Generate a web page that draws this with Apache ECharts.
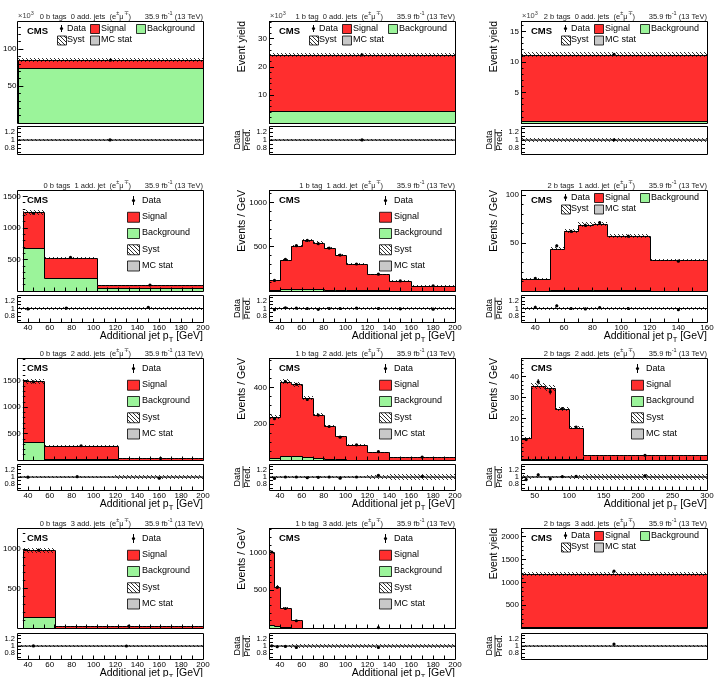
<!DOCTYPE html>
<html>
<head>
<meta charset="utf-8">
<title>Additional jet pT, e-mu channel</title>
<script src="https://cdn.jsdelivr.net/npm/echarts@6.0.0/dist/echarts.min.js"></script>
<style>
  html, body { margin: 0; padding: 0; background: #fff; }
  #chart { width: 722px; height: 677px; }
</style>
</head>
<body>
<div id="chart"></div>
<script>
// panel order: rows = number of additional jets (0..3), columns = b tags (0..2)
var bTagLabels = ['0 b tags', '1 b tag', '2 b tags'];
var addJetLabels = ['0 add. jets', '1 add. jet', '2 add. jets', '3 add. jets'];

// bin edges in additional jet pT [GeV]; one-bin panels use [0, 1]
var binEdges = [
  [0, 1], [0, 1], [0, 1],
  [30, 50, 100, 200],
  [30, 40, 50, 60, 70, 80, 90, 100, 120, 140, 160, 200],
  [30, 50, 60, 70, 80, 90, 120, 160],
  [30, 50, 120, 200],
  [30, 40, 50, 60, 70, 80, 90, 100, 120, 140, 200],
  [30, 45, 65, 80, 100, 120, 300],
  [30, 60, 200],
  [30, 35, 40, 50, 60, 200],
  [0, 1]
];
// background per bin (first row in units of 10^3 events)
var bkgVals = [
  [75], [4.3], [0.3],
  [678, 211, 42],
  [8, 18, 20, 20, 18, 16, 14, 10, 7, 5, 3],
  [0.4, 1.0, 1.2, 1.5, 1.5, 0.8, 0.4],
  [332, 15, 2],
  [12, 23, 22, 18, 10, 5, 3, 2, 1, 0.5],
  [0.3, 0.6, 0.5, 0.4, 0.3, 0.05],
  [137, 3],
  [45, 25, 10, 3, 0.3],
  [20]
];
// signal + background per bin
var predVals = [
  [85], [24.2], [11.2],
  [1246, 527, 92],
  [123, 350, 507, 571, 545, 485, 406, 302, 190, 115, 60],
  [12.8, 43.9, 62, 69, 69.5, 57, 32],
  [1487, 268, 30],
  [237, 433, 418, 341, 250, 185, 130, 84, 44, 16],
  [10.5, 35.5, 34.5, 24.5, 15.5, 2.2],
  [983, 25],
  [1000, 548, 261, 100, 5],
  [1185]
];
var dataVals = [
  [85.2], [24.25], [11.25],
  [1232, 532, 95],
  [119, 357, 512, 571, 534, 485, 406, 305, 190, 114, 59],
  [13.2, 47, 62, 68.3, 71, 57, 31],
  [1480, 270, 29],
  [228, 433, 418, 334, 248, 185, 126, 84, 46, 16.2],
  [9.8, 37.6, 32.8, 24.7, 15.8, 2.27],
  [985, 25],
  [1005, 537, 258, 96, 4.8],
  [1245]
];
// relative data stat. error
var dataErrRel = [
  [0.004], [0.006], [0.01],
  [0.01, 0.01, 0.02],
  [0.03, 0.02, 0.015, 0.015, 0.015, 0.015, 0.015, 0.015, 0.02, 0.025, 0.025],
  [0.04, 0.03, 0.025, 0.025, 0.025, 0.02, 0.025],
  [0.01, 0.015, 0.03],
  [0.02, 0.015, 0.015, 0.015, 0.02, 0.02, 0.025, 0.02, 0.03, 0.03],
  [0.05, 0.035, 0.04, 0.03, 0.035, 0.04],
  [0.01, 0.03],
  [0.01, 0.015, 0.015, 0.02, 0.03],
  [0.01]
];
// relative systematic uncertainty (hatched)
var systRel = [
  [0.03], [0.035], [0.04],
  [0.03, 0.03, 0.035],
  [0.04, 0.035, 0.03, 0.03, 0.03, 0.03, 0.03, 0.03, 0.035, 0.04, 0.045],
  [0.04, 0.035, 0.035, 0.035, 0.035, 0.035, 0.04],
  [0.03, 0.035, 0.05],
  [0.04, 0.035, 0.03, 0.03, 0.03, 0.03, 0.035, 0.04, 0.045, 0.07],
  [0.05, 0.04, 0.04, 0.04, 0.045, 0.08],
  [0.03, 0.04],
  [0.035, 0.04, 0.04, 0.045, 0.06],
  [0.04]
];
// relative MC stat. uncertainty (grey)
var mcStatRel = [0.003, 0.004, 0.006, 0.006, 0.008, 0.015, 0.006, 0.01, 0.015, 0.006, 0.01, 0.01];

// y axis ranges
var yMaxes = [138, 36.3, 16.7, 1600, 1140, 105, 1930, 563, 49, 1266, 1322, 2190];
var yMajor = [50, 10, 5, 500, 500, 50, 500, 200, 10, 500, 500, 500];
var yMinorSplit = [5, 5, 5, 5, 5, 5, 5, 4, 5, 5, 5, 5];
var xLabelStep = [0, 0, 0, 20, 20, 20, 20, 20, 50, 20, 20, 0];
var ratioTicks = [0.7, 0.8, 0.9, 1, 1.1, 1.2, 1.3];
var ratioOuterLabels = [0.8, 1.2];
var ratioCentreLabel = [1];

// layout (px)
var colLeft = [17, 269, 521];
var plotW = 186;
var mainTop = [21, 190, 358, 528];
var mainH = [102, 101, 102, 100];
var ratioTop = [126, 295, 464, 633];
var ratioH = [28, 27, 26, 26];

var FONT = '"Liberation Sans", Arial, Helvetica, sans-serif';
var RED = '#ff2e2e', GREEN = '#9bf49a', GREY = '#c8c8c8';

// hatch pattern for syst
var hatch = (function () {
  var c = document.createElement('canvas');
  c.width = 4; c.height = 4;
  var g = c.getContext('2d');
  g.strokeStyle = '#1a1a1a';
  g.lineWidth = 0.9;
  g.beginPath();
  g.moveTo(0, 0); g.lineTo(4, 4);
  g.moveTo(-1, 3); g.lineTo(1, 5);
  g.moveTo(3, -1); g.lineTo(5, 1);
  g.stroke();
  return { image: c, repeat: 'repeat' };
})();

function renderBox(fill) {
  return function (params, api) {
    var a = api.coord([api.value(0), api.value(3)]);
    var b = api.coord([api.value(1), api.value(2)]);
    var x = Math.round(a[0]), y = Math.round(a[1]);
    return {
      type: 'rect',
      shape: { x: x, y: y, width: Math.round(b[0]) - x, height: Math.max(Math.round(b[1]) - y, 1) },
      style: { fill: fill }
    };
  };
}
function renderStep(params, api) {
  var x0 = api.value(0), x1 = api.value(1);
  var p0 = api.coord([x0, api.value(3)]);
  var p1 = api.coord([x0, api.value(2)]);
  var p2 = api.coord([x1, api.value(2)]);
  var pts = [p0, p1, p2].map(function (q) { return [Math.round(q[0]) + 0.5, Math.round(q[1]) + 0.5]; });
  return { type: 'polyline', shape: { points: pts }, style: { stroke: '#000', lineWidth: 1, fill: 'none' } };
}
function renderPoint(params, api) {
  var x = api.value(0), y = api.value(1), e = api.value(2);
  var c = api.coord([x, y]), lo = api.coord([x, y - e]), hi = api.coord([x, y + e]);
  return {
    type: 'group',
    children: [
      { type: 'line', shape: { x1: c[0], y1: lo[1], x2: c[0], y2: hi[1] }, style: { stroke: '#000', lineWidth: 1 } },
      { type: 'circle', shape: { cx: c[0], cy: c[1], r: 1.6 }, style: { fill: '#000' } }
    ]
  };
}
function renderUnity(params, api) {
  var a = api.coord([api.value(0), 1]), b = api.coord([api.value(1), 1]);
  return { type: 'line', shape: { x1: a[0], y1: a[1], x2: b[0], y2: b[1] }, style: { stroke: '#000', lineWidth: 1 } };
}

function custom(name, gi, data, render, z) {
  return { type: 'custom', name: name, xAxisIndex: gi, yAxisIndex: gi, z: z, silent: true, data: data, renderItem: render };
}

function txt(x, y, text, size, extra) {
  var st = {
    text: text, fill: '#000', fontSize: size, fontFamily: FONT,
    align: 'left', textAlign: 'left', verticalAlign: 'middle', textVerticalAlign: 'middle'
  };
  for (var k in (extra || {})) st[k] = extra[k];
  return { type: 'text', x: x, y: y, z: 100, silent: true, style: st };
}
function box(x, y, w, h, fill) {
  return { type: 'rect', z: 100, silent: true, shape: { x: x + 0.5, y: y + 0.5, width: w, height: h },
    style: { fill: fill, stroke: '#000', lineWidth: 0.8 } };
}
function dataMark(x, y, half) {
  return [
    { type: 'line', z: 100, silent: true, shape: { x1: x, y1: y - half, x2: x, y2: y + half }, style: { stroke: '#000', lineWidth: 1 } },
    { type: 'circle', z: 100, silent: true, shape: { cx: x, cy: y, r: 1.6 }, style: { fill: '#000' } }
  ];
}

var supRich = {
  n: { fontSize: 7.5, lineHeight: 10, fontFamily: FONT, verticalAlign: 'bottom' },
  s: { fontSize: 5.5, lineHeight: 6, fontFamily: FONT, verticalAlign: 'top' }
};
var subRich = {
  b: { fontSize: 10.5, lineHeight: 15, fontFamily: FONT },
  t: { fontSize: 7.5, lineHeight: 8, fontFamily: FONT, verticalAlign: 'bottom' }
};

var grids = [], xAxes = [], yAxes = [], extraY = [], series = [], graphics = [];

function ratioAxis(gi, ticks, labels) {
  return {
    type: 'value', gridIndex: gi, position: 'left', offset: 0, min: 0.65, max: 1.35, z: 10,
    axisLine: { show: false }, splitLine: { show: false },
    axisTick: { show: !!ticks, inside: true, length: 4, customValues: ticks || labels, lineStyle: { color: '#000' } },
    axisLabel: {
      fontSize: 7.5, margin: 2, color: '#000', fontFamily: FONT,
      customValues: labels, hideOverlap: false, showMinLabel: true, showMaxLabel: true
    }
  };
}

function buildPanel(p) {
  var r = Math.floor(p / 3), c = p % 3;
  var L = colLeft[c], T = mainTop[r], H = mainH[r], RT = ratioTop[r], RH = ratioH[r];
  var edges = binEdges[p], bkg = bkgVals[p], pred = predVals[p], dat = dataVals[p];
  var step = xLabelStep[p], oneBin = step === 0;
  var major = yMajor[p];
  var gi = 2 * p;

  grids.push({ left: L, top: T, width: plotW, height: H });
  grids.push({ left: L, top: RT, width: plotW, height: RH });

  var xBase = {
    type: 'value', min: edges[0], max: edges[edges.length - 1], interval: oneBin ? 1 : 10, z: 10,
    axisLine: { show: false }, splitLine: { show: false },
    axisTick: { show: !oneBin, inside: true, length: 3.5, lineStyle: { color: '#000' } }
  };
  var xm = Object.assign({}, xBase, { gridIndex: gi, axisLabel: { show: false } });
  var xr = Object.assign({}, xBase, {
    gridIndex: gi + 1,
    axisLabel: {
      show: !oneBin, fontSize: 8, margin: 2, color: '#000', fontFamily: FONT, hideOverlap: false,
      formatter: function (v) { return v % step === 0 ? String(v) : ''; }
    }
  });
  xAxes.push(xm, xr);

  yAxes.push({
    type: 'value', gridIndex: gi, min: 0, max: yMaxes[p], interval: major, z: 10,
    axisLine: { show: false }, splitLine: { show: false },
    axisTick: { inside: true, length: 5, lineStyle: { color: '#000' } },
    minorTick: { show: true, splitNumber: yMinorSplit[p], length: 2.5, lineStyle: { color: '#000' } },
    axisLabel: {
      fontSize: 8, margin: 2, color: '#000', fontFamily: FONT,
      formatter: function (v) { return (v > 0 && Math.abs(v % major) < 1e-9) ? String(v) : ''; }
    }
  });
  yAxes.push(ratioAxis(gi + 1, ratioTicks, ratioOuterLabels));
  // the "1" label goes on a twin axis so it is not dropped as overlapping
  extraY.push(ratioAxis(gi + 1, null, ratioCentreLabel));

  var bkgItems = [], sigItems = [], bkgStep = [], totStep = [], systItems = [], dataItems = [];
  var mcItems = [], rSystItems = [], ratioItems = [];
  for (var i = 0; i < pred.length; i++) {
    var x0 = edges[i], x1 = edges[i + 1], s = systRel[p][i], m = mcStatRel[p];
    var ratio = dat[i] / pred[i];
    bkgItems.push([x0, x1, 0, bkg[i]]);
    sigItems.push([x0, x1, bkg[i], pred[i]]);
    bkgStep.push([x0, x1, bkg[i], i ? bkg[i - 1] : 0]);
    totStep.push([x0, x1, pred[i], i ? pred[i - 1] : 0]);
    systItems.push([x0, x1, pred[i] * (1 - s), pred[i] * (1 + s)]);
    dataItems.push([(x0 + x1) / 2, dat[i], dat[i] * dataErrRel[p][i]]);
    mcItems.push([x0, x1, 1 - m, 1 + m]);
    rSystItems.push([x0, x1, 1 - s, 1 + s]);
    ratioItems.push([(x0 + x1) / 2, ratio, ratio * dataErrRel[p][i]]);
  }
  series.push(
    custom('Background', gi, bkgItems, renderBox(GREEN), 2),
    custom('Signal', gi, sigItems, renderBox(RED), 2),
    custom('Background outline', gi, bkgStep, renderStep, 3),
    custom('Total outline', gi, totStep, renderStep, 3),
    custom('Syst', gi, systItems, renderBox(hatch), 4),
    custom('Data', gi, dataItems, renderPoint, 5),
    custom('MC stat', gi + 1, mcItems, renderBox(GREY), 2),
    custom('Syst', gi + 1, rSystItems, renderBox(hatch), 3),
    custom('Unity', gi + 1, [[edges[0], edges[edges.length - 1]]], renderUnity, 4),
    custom('Data/Pred.', gi + 1, ratioItems, renderPoint, 5)
  );

  // frames
  graphics.push(
    { type: 'rect', z: 100, silent: true, shape: { x: L + 0.5, y: T + 0.5, width: plotW, height: H }, style: { fill: 'none', stroke: '#000', lineWidth: 1 } },
    { type: 'rect', z: 100, silent: true, shape: { x: L + 0.5, y: RT + 0.5, width: plotW, height: RH }, style: { fill: 'none', stroke: '#000', lineWidth: 1 } }
  );

  // header
  graphics.push(txt(L + 114, T - 5.5, '{n|' + bTagLabels[c] + '  ' + addJetLabels[r] + '  (e}{s|\u00b1}{n|\u03bc}{s|\u2213}{n|)}', 7.5,
    { align: 'right', textAlign: 'right', rich: supRich, fill: '#222' }));
  graphics.push(txt(L + plotW, T - 5.5, '{n|35.9 fb}{s|-1}{n| (13 TeV)}', 7.5,
    { align: 'right', textAlign: 'right', rich: supRich, fill: '#222' }));
  if (r === 0) {
    graphics.push(txt(L + 1, T - 6, '{n|\u00d710}{s|3}', 7.5, { rich: supRich, fill: '#444' }));
  }
  graphics.push(txt(L + 10, T + 10, 'CMS', 9.5, { fontWeight: 'bold' }));

  // legend
  var wide = r === 0 || (c === 2 && r !== 2);
  if (wide) {
    graphics = graphics.concat(dataMark(L + 44.5, T + 7.5, 3.5));
    graphics.push(txt(L + 50, T + 7.5, 'Data', 9));
    graphics.push(box(L + 73, T + 3, 9, 9, RED), txt(L + 84, T + 7.5, 'Signal', 9));
    graphics.push(box(L + 119, T + 3, 9, 9, GREEN), txt(L + 130, T + 7.5, 'Background', 9));
    graphics.push(box(L + 40, T + 14.5, 9, 9, hatch), txt(L + 50, T + 19, 'Syst', 9));
    graphics.push(box(L + 73, T + 14.5, 9, 9, GREY), txt(L + 84, T + 19, 'MC stat', 9));
  } else {
    var names = ['Data', 'Signal', 'Background', 'Syst', 'MC stat'];
    var fills = [null, RED, GREEN, hatch, GREY];
    for (var k = 0; k < names.length; k++) {
      var yy = T + 10.5 + 16.25 * k;
      if (k === 0) graphics = graphics.concat(dataMark(L + 116.5, yy, 4.5));
      else graphics.push(box(L + 110, yy - 5, 12, 10, fills[k]));
      graphics.push(txt(L + 125, yy, names[k], 9));
    }
  }

  // axis titles
  graphics.push(Object.assign(txt(L - 27, T, oneBin ? 'Event yield' : 'Events / GeV', 10.5,
    { align: 'right', textAlign: 'right' }), { rotation: Math.PI / 2 }));
  graphics.push(Object.assign(txt(L - 26, RT + RH / 2, 'Data\nPred.', 9,
    { align: 'center', textAlign: 'center', lineHeight: 10 }), { rotation: Math.PI / 2 }));
  graphics.push({ type: 'line', z: 100, silent: true,
    shape: { x1: L - 26, y1: RT + RH / 2 - 11, x2: L - 26, y2: RT + RH / 2 + 11 }, style: { stroke: '#000', lineWidth: 0.8 } });
  if (!oneBin) {
    graphics.push(txt(L + plotW, RT + RH + 14.5, '{b|Additional jet p}{t|T}{b| [GeV]}', 10.5,
      { align: 'right', textAlign: 'right', rich: subRich }));
  }
}

for (var p = 0; p < 12; p++) buildPanel(p);

var chart = echarts.init(document.getElementById('chart'));
chart.setOption({
  animation: false,
  backgroundColor: '#fff',
  grid: grids,
  xAxis: xAxes,
  yAxis: yAxes.concat(extraY),
  series: series,
  graphic: { elements: graphics }
});
</script>
</body>
</html>
